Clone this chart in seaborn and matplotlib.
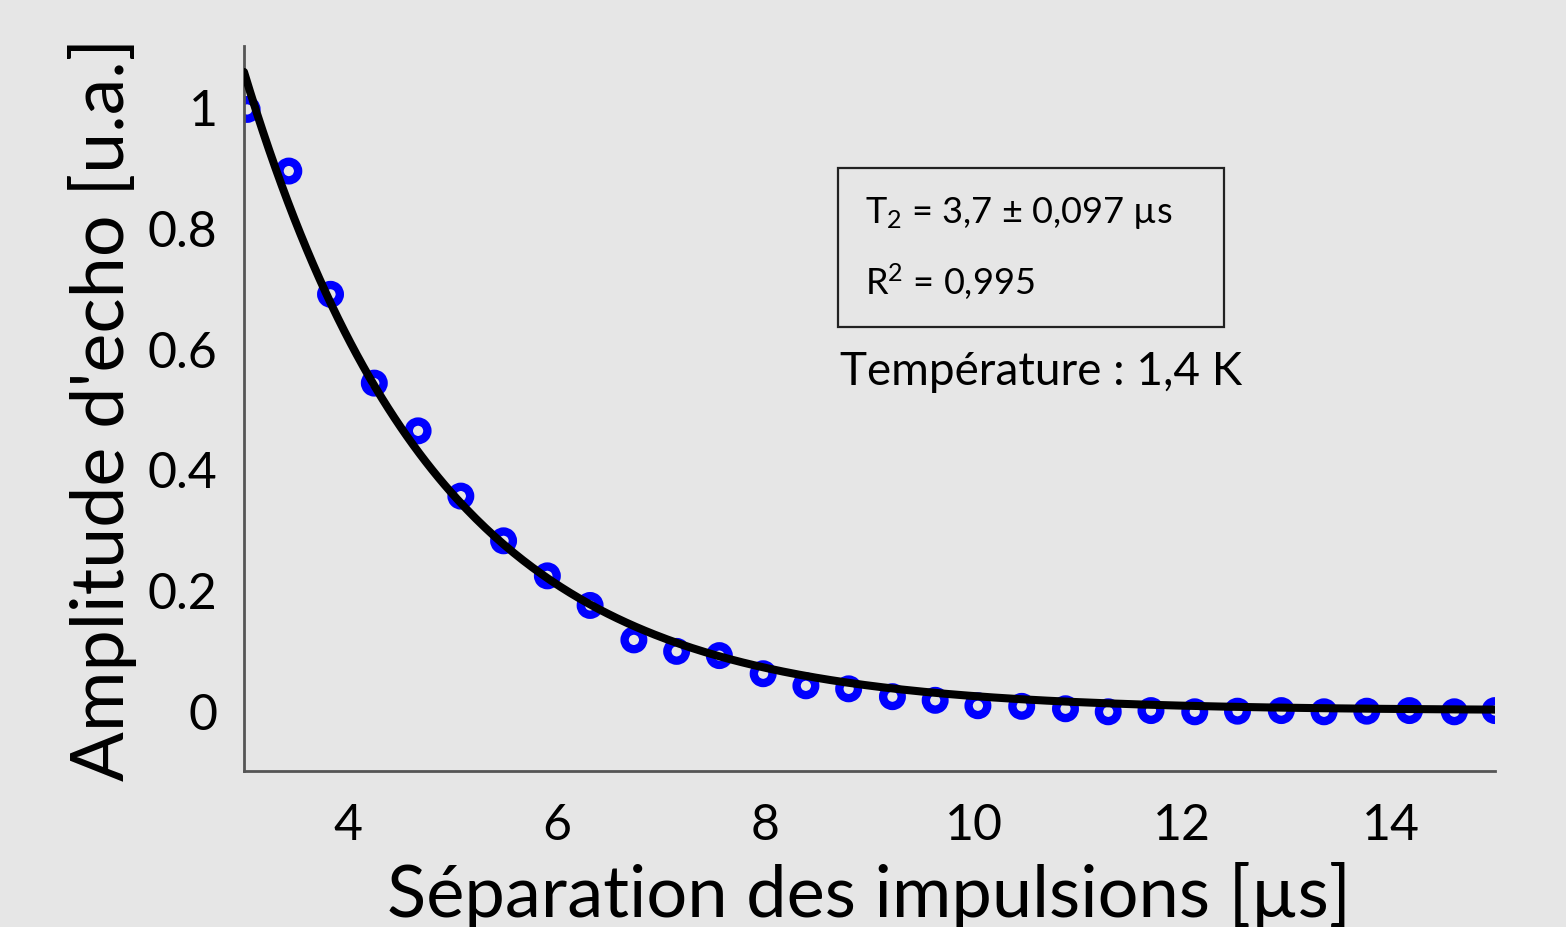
import numpy as np
import pandas as pd
import matplotlib
matplotlib.use("Agg")
import matplotlib.pyplot as plt
import seaborn as sns
from matplotlib.patches import Rectangle
from matplotlib.ticker import FuncFormatter

# ---- data ----
separation_us = [3.03, 3.43, 3.83, 4.25, 4.67, 5.08, 5.49, 5.91, 6.32, 6.74,
                 7.15, 7.56, 7.98, 8.39, 8.80, 9.22, 9.63, 10.04, 10.46, 10.88,
                 11.29, 11.70, 12.12, 12.53, 12.95, 13.36, 13.77, 14.18, 14.61, 15.00]
amplitude = [0.995, 0.893, 0.689, 0.542, 0.463, 0.355, 0.281, 0.223, 0.174, 0.117,
             0.098, 0.091, 0.061, 0.041, 0.036, 0.023, 0.017, 0.008, 0.007, 0.003,
             -0.002, 0.000, -0.002, -0.001, 0.000, -0.002, -0.001, 0.000, -0.002, 0.000]
fit_amplitude_A = 5.35   # prefactor of the fitted decay
fit_T2 = 3.7             # µs, echo decays as exp(-2*tau/T2)
x_ticks = [4, 6, 8, 10, 12, 14]
y_ticks = [0, 0.2, 0.4, 0.6, 0.8, 1.0]
xlabel = "Séparation des impulsions [µs]"
ylabel = "Amplitude d'echo [u.a.]"
box_line1 = "T$_2$ = 3,7 ± 0,097 µs"
box_line2 = "R$^2$ = 0,995"
temp_text = "Température : 1,4 K"

W, H = 1566, 928
bg = "#e6e6e6"

sns.set_theme(style="white")
plt.rcParams["font.family"] = ["Lato", "DejaVu Sans"]
plt.rcParams["mathtext.fontset"] = "custom"
plt.rcParams["mathtext.rm"] = "Lato"
plt.rcParams["mathtext.it"] = "Lato"
plt.rcParams["mathtext.bf"] = "Lato"
plt.rcParams["text.color"] = "black"

fig = plt.figure(figsize=(W / 100, H / 100), dpi=100, facecolor=bg)
ax = fig.add_axes([244 / W, 1 - 772 / H, (1495 - 244) / W, (772 - 47) / H])
ax.set_facecolor(bg)

df_pts = pd.DataFrame({"x": separation_us, "y": amplitude})
xf = np.linspace(3, 15, 400)
df_fit = pd.DataFrame({"x": xf, "y": fit_amplitude_A * np.exp(-2 * xf / fit_T2)})

sns.scatterplot(data=df_pts, x="x", y="y", ax=ax, marker="o", s=180,
                facecolors="none", edgecolor="#0000ff", linewidth=6.0,
                zorder=2, clip_on=True)
sns.lineplot(data=df_fit, x="x", y="y", ax=ax, color="black", linewidth=5.8,
             zorder=3)

ax.set_xlim(3, 15)
ax.set_ylim(-0.1, 1.1)
ax.set_xticks(x_ticks)
ax.set_yticks(y_ticks)
ax.yaxis.set_major_formatter(FuncFormatter(lambda v, p: f"{v:g}"))

for s in ["top", "right"]:
    ax.spines[s].set_visible(False)
for s in ["left", "bottom"]:
    ax.spines[s].set_color("#555555")
    ax.spines[s].set_linewidth(2.0)

ax.tick_params(axis="both", direction="in", length=7, width=1.6,
               color="#333333", labelsize=36, labelcolor="black")
ax.tick_params(axis="y", pad=19)
ax.tick_params(axis="x", pad=22)

ax.set_xlabel(xlabel, fontsize=52, color="black", labelpad=10)
ax.set_ylabel(ylabel, fontsize=53, color="black", labelpad=8)

# annotation box
fig.patches.append(Rectangle((838 / W, 1 - 328 / H), (1224 - 838) / W, (328 - 169) / H,
                             transform=fig.transFigure, fill=False,
                             edgecolor="#222222", linewidth=1.6))
fig.text(865 / W, 1 - 223 / H, box_line1, fontsize=26, va="baseline", ha="left", color="black")
fig.text(865 / W, 1 - 295 / H, box_line2, fontsize=26, va="baseline", ha="left", color="black")
fig.text(840 / W, 1 - 385 / H, temp_text, fontsize=33, va="baseline", ha="left", color="black")

fig.savefig("out.png", dpi=100, facecolor=bg)
